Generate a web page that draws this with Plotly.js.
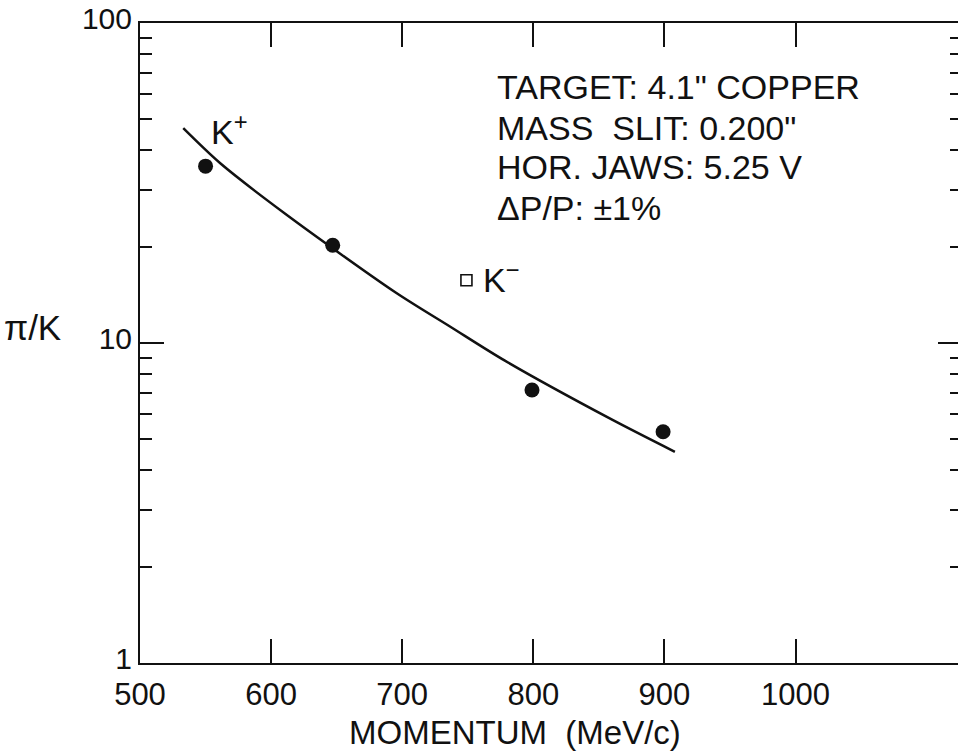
<!DOCTYPE html>
<html>
<head>
<meta charset="utf-8">
<script src="https://cdn.plot.ly/plotly-3.0.1.min.js"></script>
<style>
html, body { margin: 0; padding: 0; overflow: hidden; background: #fff; }
#chart { width: 962px; height: 753px; }
</style>
</head>
<body>
<div id="chart"></div>
<script>
// K+ measurements (momentum MeV/c, pi/K ratio)
const kPlusMomentum = [550, 647, 799, 899];
const kPlusRatio = [35.7, 20.2, 7.13, 5.28];

// K- measurement
const kMinusMomentum = [749];
const kMinusRatio = [15.7];

// Smooth curve drawn through the K+ data
const curveMomentum = [533, 561, 611, 695, 737, 778, 859, 908];
const curveRatio = [46.9, 36.5, 25.3, 14.38, 11.22, 8.82, 5.79, 4.57];

// Axis ticks
const xTickVals = [500, 600, 700, 800, 900, 1000];
const xTickText = ['500', '600', '700', '800', '900', '1000'];
const yTickVals = [1, 10, 100];
const yTickText = ['1', '10', '100'];
const yMinorVals = [2, 3, 4, 5, 6, 7, 8, 9, 20, 30, 40, 50, 60, 70, 80, 90];

// Text
const infoLines = ['TARGET: 4.1" COPPER', 'MASS  SLIT: 0.200"', 'HOR. JAWS: 5.25 V', '\u0394P/P: \u00B11%'];
const xTitle = 'MOMENTUM  (MeV/c)';
const yTitle = '\u03C0/K';
const kPlusLabel = 'K<sup>+</sup>';
const kMinusLabel = 'K<sup>\u2212</sup>';

const FONT = 'Liberation Sans, Arial, sans-serif';
const INK = '#111';

const traces = [
  {
    x: curveMomentum, y: curveRatio, type: 'scatter', mode: 'lines',
    line: { color: INK, width: 2.5, shape: 'spline', smoothing: 0.8 },
    hoverinfo: 'skip', showlegend: false
  },
  {
    x: kPlusMomentum, y: kPlusRatio, type: 'scatter', mode: 'markers',
    marker: { symbol: 'circle', size: 15, color: INK },
    name: 'K+', showlegend: false
  },
  {
    x: kMinusMomentum, y: kMinusRatio, type: 'scatter', mode: 'markers',
    marker: { symbol: 'square-open', size: 11, color: INK, line: { width: 1.6, color: INK } },
    name: 'K-', showlegend: false
  }
];

const lineY = [0.9, 0.836, 0.775, 0.711];
const annotations = infoLines.map((t, i) => ({
  text: t, xref: 'paper', yref: 'paper', x: 0.432, y: lineY[i],
  xanchor: 'left', yanchor: 'middle', showarrow: false,
  font: { family: FONT, size: 34, color: INK }
}));
annotations.push({
  text: xTitle, xref: 'paper', yref: 'paper', x: 0.456, y: -0.108,
  xanchor: 'center', yanchor: 'middle', showarrow: false,
  font: { family: FONT, size: 33, color: INK }
});
annotations.push({
  text: yTitle, xref: 'paper', yref: 'paper', x: -0.168, y: 0.524,
  xanchor: 'left', yanchor: 'middle', showarrow: false,
  font: { family: FONT, size: 35, color: INK }
});
annotations.push({
  text: kPlusLabel, xref: 'paper', yref: 'paper', x: 0.084, y: 0.833,
  xanchor: 'left', yanchor: 'middle', showarrow: false,
  font: { family: FONT, size: 34, color: INK }
});
annotations.push({
  text: kMinusLabel, xref: 'paper', yref: 'paper', x: 0.415, y: 0.603,
  xanchor: 'left', yanchor: 'middle', showarrow: false,
  font: { family: FONT, size: 34, color: INK }
});

const layout = {
  width: 962, height: 753,
  margin: { l: 140, r: 0, t: 23, b: 90 },
  paper_bgcolor: '#fff', plot_bgcolor: '#fff',
  showlegend: false,
  xaxis: {
    range: [500, 1127], showgrid: false, zeroline: false,
    showline: true, linecolor: INK, linewidth: 2, mirror: 'allticks',
    tickmode: 'array', tickvals: xTickVals, ticktext: xTickText,
    ticks: 'inside', ticklen: 24, tickwidth: 2, tickcolor: INK,
    ticklabelstandoff: 3,
    tickfont: { family: FONT, size: 31, color: INK }
  },
  yaxis: {
    type: 'log', range: [0, 2], showgrid: false, zeroline: false,
    showline: true, linecolor: INK, linewidth: 2, mirror: 'allticks',
    tickmode: 'array', tickvals: yTickVals, ticktext: yTickText,
    ticks: 'inside', ticklen: 24, tickwidth: 2, tickcolor: INK,
    ticklabelshift: -5,
    tickfont: { family: FONT, size: 30, color: INK },
    minor: { tickmode: 'array', tickvals: yMinorVals, ticks: 'inside', ticklen: 12, tickwidth: 2, tickcolor: INK, showgrid: false }
  },
  annotations: annotations
};

Plotly.newPlot('chart', traces, layout, { staticPlot: true, displayModeBar: false });
</script>
</body>
</html>
